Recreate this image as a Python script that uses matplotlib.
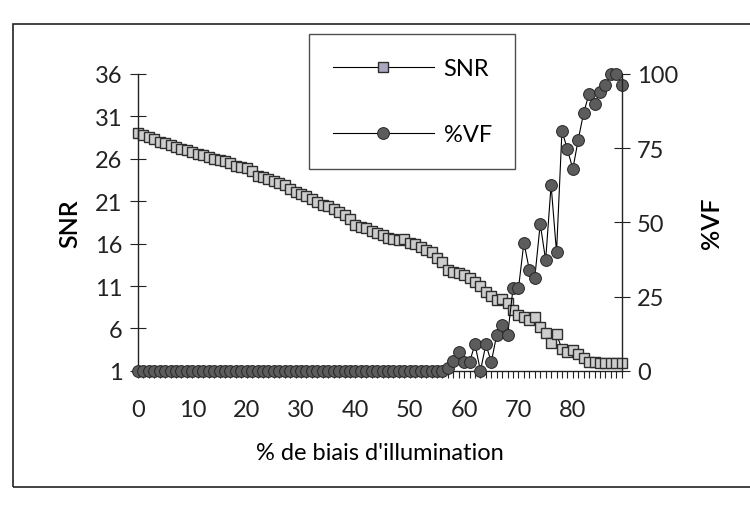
import matplotlib
matplotlib.use("Agg")
import matplotlib.pyplot as plt
from matplotlib.patches import Rectangle
from matplotlib.ticker import MultipleLocator, FixedLocator

plt.rcParams['font.family'] = ['Lato', 'DejaVu Sans']

# % de biais d'illumination (one point per percent)
bias = list(range(90))

snr = [29.0, 28.8, 28.6, 28.3, 28.0, 27.9, 27.6, 27.4, 27.1, 27.0,
       26.8, 26.6, 26.4, 26.2, 26.0, 25.9, 25.7, 25.5, 25.2, 25.0,
       24.9, 24.5, 24.0, 23.8, 23.6, 23.4, 23.1, 22.9, 22.4, 22.1,
       21.9, 21.6, 21.2, 20.9, 20.6, 20.4, 20.1, 19.7, 19.4, 18.9,
       18.2, 18.0, 17.8, 17.5, 17.2, 17.0, 16.7, 16.5, 16.4, 16.6,
       16.1, 15.9, 15.6, 15.3, 15.0, 14.3, 13.8, 12.9, 12.6, 12.5,
       12.3, 11.9, 11.5, 11.0, 10.3, 9.8, 9.4, 9.5, 9.0, 8.2,
       7.6, 7.3, 7.0, 7.3, 6.2, 5.5, 4.3, 5.3, 3.6, 3.2,
       3.5, 3.0, 2.5, 2.1, 2.0, 1.9, 1.9, 1.9, 1.9, 1.9]

vf = [0] * 57 + [1.0,
      3.2, 6.5, 3.0, 3.0, 9.0, 0.0, 8.9, 3.0, 12.2, 15.5,
      12.0, 27.8, 27.8, 43.2, 34.0, 31.4, 49.5, 37.3, 62.6, 39.9,
      80.8, 74.6, 68.0, 77.9, 87.0, 93.3, 89.9, 93.9, 96.2, 100.0,
      100.0, 96.2]

snr_ticks = [1, 6, 11, 16, 21, 26, 31, 36]
vf_ticks = [0, 25, 50, 75, 100]

fig = plt.figure(figsize=(7.5, 5.06), dpi=100)
fig.patches.append(Rectangle((0.018, 0.035), 1.2, 0.915, transform=fig.transFigure,
                             fill=False, edgecolor='#222222', linewidth=1.2))

ax = fig.add_axes([0.184, 0.265, 0.645, 0.587])
ax2 = ax.twinx()

ax.plot(bias, snr, color='black', linewidth=0.8, marker='s', markersize=7.5,
        markerfacecolor='#cdcdcd', markeredgecolor='#2e2e2e', markeredgewidth=1.0,
        clip_on=False, label='SNR')
ax2.plot(bias, vf, color='black', linewidth=0.8, marker='o', markersize=8.5,
         markerfacecolor='#5c5c5c', markeredgecolor='#262626', markeredgewidth=0.7,
         clip_on=False, label='%VF')

ax.set_xlim(0, 89)
ax.set_ylim(1, 36)
ax2.set_ylim(0, 100)

ax.xaxis.set_major_locator(MultipleLocator(10))
ax.xaxis.set_minor_locator(MultipleLocator(1))
ax.yaxis.set_major_locator(FixedLocator(snr_ticks))
ax2.yaxis.set_major_locator(FixedLocator(vf_ticks))

ax.tick_params(axis='x', which='both', direction='out', length=5, width=0.8,
               labelsize=17, pad=15, colors='#222222')
ax.tick_params(axis='y', direction='inout', length=12, width=0.8, labelsize=17,
               pad=5, colors='#222222')
ax2.tick_params(axis='y', direction='inout', length=12, width=0.8, labelsize=17,
                pad=5, colors='#222222')

for a in (ax, ax2):
    a.spines['top'].set_visible(False)
    for s in a.spines.values():
        s.set_color('#222222')
        s.set_linewidth(1.0)
ax.spines['right'].set_visible(False)
ax2.spines['left'].set_visible(False)
ax2.spines['bottom'].set_visible(False)

ax.set_ylabel('SNR', fontsize=18, labelpad=10, fontweight='semibold')
ax2.set_ylabel('%VF', fontsize=18, labelpad=16, rotation=90, fontweight='semibold')
ax.set_xlabel("% de biais d'illumination", fontsize=17, labelpad=16)

h1, l1 = ax.get_legend_handles_labels()
h2, l2 = ax2.get_legend_handles_labels()
leg = ax2.legend(h1 + h2, l1 + l2, loc='upper left', bbox_to_anchor=(0.412, 0.93),
                 bbox_transform=fig.transFigure, frameon=True, fancybox=False,
                 fontsize=17, handlelength=4.3, handletextpad=0.4, labelspacing=1.9,
                 borderpad=1.0, borderaxespad=0, markerscale=1.0)
leg.get_frame().set_edgecolor('#222222')
leg.get_frame().set_linewidth(1.0)
leg.legend_handles[0].set_markerfacecolor('#aaa8c0')

fig.savefig('out.png', dpi=100)
